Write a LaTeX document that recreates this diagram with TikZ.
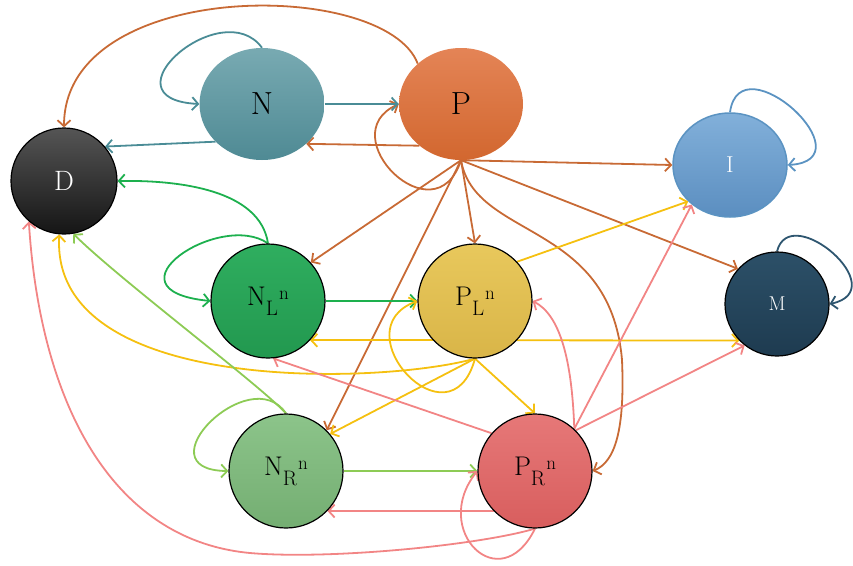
\documentclass[tikz,border=0pt]{standalone}
\usepackage{fontspec}
\usetikzlibrary{arrows.meta,shapes.geometric}
\pgfdeclarelayer{edges}
\pgfsetlayers{edges,main}
\definecolor{cP}{HTML}{C86A35}
\definecolor{cN}{HTML}{4A8C96}
\definecolor{cNL}{HTML}{1DB04E}
\definecolor{cPL}{HTML}{F5C010}
\definecolor{cNR}{HTML}{8DCB55}
\definecolor{cPR}{HTML}{F28585}
\definecolor{cI}{HTML}{5B93C2}
\definecolor{cM}{HTML}{2E5670}
\definecolor{fDa}{HTML}{555555}\definecolor{fDb}{HTML}{151515}
\definecolor{fNa}{HTML}{78AAB2}\definecolor{fNb}{HTML}{4F8A94}
\definecolor{fPa}{HTML}{E48456}\definecolor{fPb}{HTML}{D2672F}
\definecolor{fIa}{HTML}{82B0DA}\definecolor{fIb}{HTML}{5B8EC0}
\definecolor{fLa}{HTML}{2FAE5F}\definecolor{fLb}{HTML}{22984F}
\definecolor{fQa}{HTML}{E8C85C}\definecolor{fQb}{HTML}{D9B548}
\definecolor{fMa}{HTML}{2C5068}\definecolor{fMb}{HTML}{1E3B50}
\definecolor{fRa}{HTML}{8CC48A}\definecolor{fRb}{HTML}{74AE72}
\definecolor{fSa}{HTML}{E67878}\definecolor{fSb}{HTML}{D85E5E}
\newcommand{\stname}[2]{#1\raisebox{-10pt}{\fontsize{21}{21}\selectfont #2}\kern1pt\raisebox{6pt}{\fontsize{19}{19}\selectfont n}}
\begin{document}
\begin{tikzpicture}[x=1pt,y=-1pt,
  st/.style={circle,inner sep=0pt,minimum size=114pt,draw=black,line width=1.2pt,font=\fontsize{27}{27}\selectfont},
  el/.style={ellipse,inner sep=0pt,font=\fontsize{32}{32}\selectfont},
  arr/.style={line width=1.8pt,-{Straight Barb[length=6pt,width=13pt]}}]
\useasboundingbox (0,0) rectangle (853,565);
% nodes
\node[st,minimum size=106pt,top color=fDa,bottom color=fDb,text=white,font=\fontsize{28}{28}\selectfont] (D) at (64,181) {D};
\node[el,minimum width=125pt,minimum height=112pt,top color=fNa,bottom color=fNb] (N) at (262,104) {N};
\node[el,minimum width=124pt,minimum height=112pt,top color=fPa,bottom color=fPb] (P) at (461,104) {P};
\node[el,minimum width=114pt,minimum height=104pt,draw=cI,line width=1.5pt,top color=fIa,bottom color=fIb,text=white,font=\fontsize{23}{23}\selectfont] (I) at (730,165) {I};
\node[st,top color=fLa,bottom color=fLb] (NL) at (268,301) {\stname{N}{L}};
\node[st,top color=fQa,bottom color=fQb] (PL) at (475,301) {\stname{P}{L}};
\node[st,minimum size=104pt,top color=fMa,bottom color=fMb,text=white,font=\fontsize{20}{20}\selectfont] (M) at (777,304) {M};
\node[st,top color=fRa,bottom color=fRb] (NR) at (286,471) {\stname{N}{R}};
\node[st,top color=fSa,bottom color=fSb] (PR) at (535,471) {\stname{P}{R}};
\begin{pgfonlayer}{edges}
% orange edges from P
\draw[arr,cP] (P.137) .. controls (385,-22) and (64,-22) .. (D.north);
\draw[arr,cP] (P.225) -- (N.-42);
\draw[arr,cP] (P.south) .. controls (435,240) and (330,135) .. (P.west);
\draw[arr,cP] (P.south) -- (I.west);
\draw[arr,cP] (P.south) -- (M.138);
\draw[arr,cP] (P.south) -- (PL.north);
\draw[arr,cP] (P.south) -- (NL.42);
\draw[arr,cP] (P.south) -- (NR.45);
\draw[arr,cP] (P.south) .. controls (475,240) and (610,220) .. (622,360) .. controls (625,430) and (615,462) .. (PR.east);
% teal edges from N
\draw[arr,cN] (N.north) .. controls (222,-7) and (100,99) .. (N.west);
\draw[arr,cN] (N.east) -- (P.west);
\draw[arr,cN] (N.219) -- (D.40);
% green edges from NL
\draw[arr,cNL] (NL.north) .. controls (260,190) and (180,180) .. (D.east);
\draw[arr,cNL] (NL.north) .. controls (220,210) and (100,290) .. (NL.west);
\draw[arr,cNL] (NL.east) -- (PL.west);
% gold edges from PL
\draw[arr,cPL] (PL.43) -- (I.221);
\draw[arr,cPL] (PL.-137) -- (NL.-43);
\draw[arr,cPL] (PL.-43) -- (M.224);
\draw[arr,cPL] (PL.south) .. controls (380,385) and (50,395) .. (D.-95);
\draw[arr,cPL] (PL.south) .. controls (450,450) and (340,330) .. (PL.west);
\draw[arr,cPL] (PL.south) -- (NR.40);
\draw[arr,cPL] (PL.south) -- (PR.north);
% light green edges from NR
\draw[arr,cNR] (NR.north) .. controls (260,385) and (120,280) .. (D.-80);
\draw[arr,cNR] (NR.north) .. controls (250,360) and (140,470) .. (NR.west);
\draw[arr,cNR] (NR.east) -- (PR.west);
% pink edges from PR
\draw[arr,cPR] (PR.224) -- (NR.-44);
\draw[arr,cPR] (PR.139) -- (NL.-85);
\draw[arr,cPR] (PR.south) .. controls (480,545) and (330,560) .. (250,553) .. controls (110,540) and (40,400) .. (D.229);
\draw[arr,cPR] (PR.south) .. controls (500,600) and (430,530) .. (PR.west);
\draw[arr,cPR] (PR.47) .. controls (572,360) and (560,315) .. (PL.east);
\draw[arr,cPR] (PR.47) -- (I.226);
\draw[arr,cPR] (PR.45) -- (M.232);
% self loops
\draw[arr,cI] (I.north) .. controls (740,40) and (870,160) .. (I.east);
\draw[arr,cM] (M.north) .. controls (790,200) and (895,290) .. (M.east);
\end{pgfonlayer}
\end{tikzpicture}
\end{document}
